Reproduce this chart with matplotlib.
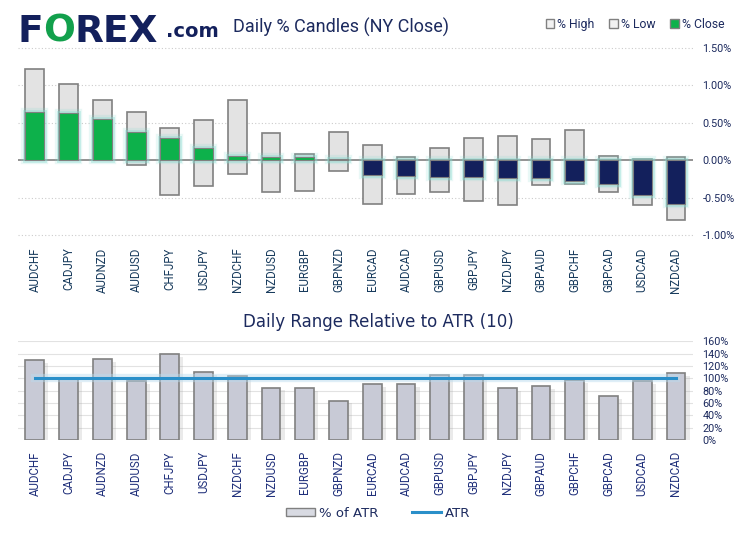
import numpy as np
import matplotlib
matplotlib.use("Agg")
import matplotlib.pyplot as plt
import matplotlib.patheffects as pe
from matplotlib.patches import Patch
from matplotlib.lines import Line2D
from matplotlib.ticker import FuncFormatter

PAIRS = ["AUDCHF", "CADJPY", "AUDNZD", "AUDUSD", "CHFJPY", "USDJPY", "NZDCHF",
         "NZDUSD", "EURGBP", "GBPNZD", "EURCAD", "AUDCAD", "GBPUSD", "GBPJPY",
         "NZDJPY", "GBPAUD", "GBPCHF", "GBPCAD", "USDCAD", "NZDCAD"]
PCT_HIGH = [1.22, 1.02, 0.81, 0.65, 0.43, 0.54, 0.80, 0.36, 0.08, 0.38, 0.20,
            0.04, 0.16, 0.30, 0.32, 0.28, 0.40, 0.06, 0.01, 0.04]
PCT_LOW = [0.00, 0.00, 0.00, -0.06, -0.47, -0.35, -0.18, -0.43, -0.41, -0.14, -0.58,
           -0.45, -0.43, -0.54, -0.60, -0.33, -0.32, -0.43, -0.60, -0.80]
PCT_CLOSE = [0.64, 0.63, 0.55, 0.38, 0.30, 0.16, 0.06, 0.04, 0.04, 0.01, -0.20,
             -0.21, -0.22, -0.22, -0.24, -0.24, -0.28, -0.32, -0.46, -0.59]
PCT_OF_ATR = [129, 99, 131, 95, 139, 110, 103, 85, 84, 64, 90,
              90, 105, 105, 84, 87, 97, 71, 95, 108]
ATR_LEVEL = 100

NAVY = "#13205c"
TEXT = "#1c2a5e"
GREEN = "#0db14b"
EDGE = "#808080"
NARROW = "Roboto"

fig = plt.figure(figsize=(7.49, 5.34), dpi=100)
x = np.arange(len(PAIRS))
w = 0.56

# --- top: daily % candles ---
ax = fig.add_axes([0.024, 0.560, 0.901, 0.350])
glow = [pe.Stroke(linewidth=6, foreground="#8adcd2", alpha=0.18),
        pe.Stroke(linewidth=3.5, foreground="#8adcd2", alpha=0.4),
        pe.Normal()]
for i in x:
    lo, hi, cl = PCT_LOW[i], PCT_HIGH[i], PCT_CLOSE[i]
    ax.bar(i, hi - lo, w, bottom=lo, color="#e3e3e3", edgecolor=EDGE,
           linewidth=1.2, zorder=2)
    col = GREEN if cl >= 0 else NAVY
    bars = ax.bar(i, cl, w, bottom=0, color=col, edgecolor=EDGE, linewidth=0.8, zorder=4)
    for b in bars:
        b.set_path_effects(glow)
ax.axhline(0, color=EDGE, linewidth=1.2, zorder=3)
for yv in [-1.0, -0.5, 0.5, 1.0, 1.5]:
    ax.axhline(yv, color="#cccccc", linewidth=0.8, linestyle=(0, (1, 2)), zorder=1,
               clip_on=False)
ax.set_xlim(-0.5, len(PAIRS) - 0.5)
ax.set_ylim(-1.0, 1.5)
ax.set_yticks([-1.0, -0.5, 0.0, 0.5, 1.0, 1.5])
ax.yaxis.set_major_formatter(FuncFormatter(lambda v, p: f"{v:.2f}%"))
ax.yaxis.tick_right()
ax.tick_params(axis="y", length=0, pad=7, labelcolor=TEXT, labelsize=7.8)
ax.set_xticks(x)
ax.set_xticklabels(PAIRS, rotation=90, color="#173a5c", fontsize=8.3, family=NARROW)
ax.tick_params(axis="x", length=0, pad=9)
for lbl in ax.get_yticklabels():
    lbl.set_family(NARROW)
for s in ax.spines.values():
    s.set_visible(False)

# --- bottom: daily range relative to ATR ---
ax2 = fig.add_axes([0.024, 0.176, 0.901, 0.185])
for yv in range(20, 161, 20):
    ax2.axhline(yv, color="#e2e2e2", linewidth=0.8, zorder=0)
bars2 = ax2.bar(x, PCT_OF_ATR, w, color="#c8cad6", edgecolor=EDGE, linewidth=1.2, zorder=2)
for b in bars2:
    b.set_path_effects([pe.SimplePatchShadow(offset=(3, -2), shadow_rgbFace="#999999",
                                             alpha=0.2), pe.Normal()])
ax2.plot([x[0], x[-1]], [ATR_LEVEL, ATR_LEVEL], color="#2a8fc9", linewidth=2.2, zorder=3,
         path_effects=[pe.Stroke(linewidth=6, foreground="#b9dbef", alpha=0.45), pe.Normal()])
ax2.set_xlim(-0.5, len(PAIRS) - 0.5)
ax2.set_ylim(0, 160)
ax2.set_yticks(range(0, 161, 20))
ax2.yaxis.set_major_formatter(FuncFormatter(lambda v, p: f"{v:.0f}%"))
ax2.yaxis.tick_right()
ax2.tick_params(axis="y", length=0, pad=7, labelcolor=TEXT, labelsize=7.8)
ax2.set_xticks(x)
ax2.set_xticklabels(PAIRS, rotation=90, color="#1f2f7a", fontsize=8.3, family=NARROW)
ax2.tick_params(axis="x", length=0, pad=8)
for lbl in ax2.get_yticklabels():
    lbl.set_family(NARROW)
for s in ax2.spines.values():
    s.set_visible(False)

# --- titles, logo, legends ---
fig.text(0.023, 0.922, "F", fontsize=27, fontweight="heavy", color=NAVY, va="baseline")
fig.text(0.058, 0.922, "O", fontsize=27, fontweight="heavy", color="#12a04c", va="baseline")
fig.text(0.100, 0.922, "REX", fontsize=27, fontweight="heavy", color=NAVY, va="baseline")
fig.text(0.222, 0.930, ".com", fontsize=14, fontweight="bold", color=NAVY, va="baseline")
fig.text(0.311, 0.949, "Daily % Candles (NY Close)", fontsize=13, color=TEXT,
         family=NARROW, va="center")
fig.text(0.505, 0.397, "Daily Range Relative to ATR (10)", fontsize=12, color=TEXT,
         ha="center", va="center")

top_handles = [Patch(facecolor="#f2f2f2", edgecolor=EDGE, label="% High"),
               Patch(facecolor="#f2f2f2", edgecolor=EDGE, label="% Low"),
               Patch(facecolor=GREEN, edgecolor=EDGE, label="% Close")]
leg = fig.legend(handles=top_handles, loc="center right", bbox_to_anchor=(0.982, 0.955),
                 ncol=3, frameon=False, handlelength=0.7, handleheight=0.7,
                 handletextpad=0.25, columnspacing=1.2, prop={"family": NARROW, "size": 8.8})
for t in leg.get_texts():
    t.set_color(TEXT)

bot_handles = [Patch(facecolor="#d8dae2", edgecolor=EDGE, label="% of ATR"),
               Line2D([0], [0], color="#2a8fc9", linewidth=2.2, label="ATR")]
leg2 = fig.legend(handles=bot_handles, loc="center", bbox_to_anchor=(0.505, 0.039),
                  ncol=2, frameon=False, handlelength=2.2, handleheight=0.6,
                  handletextpad=0.3, columnspacing=2.5, prop={"size": 9.5})
for t in leg2.get_texts():
    t.set_color(TEXT)

fig.savefig("out.png", dpi=100, facecolor="white")
